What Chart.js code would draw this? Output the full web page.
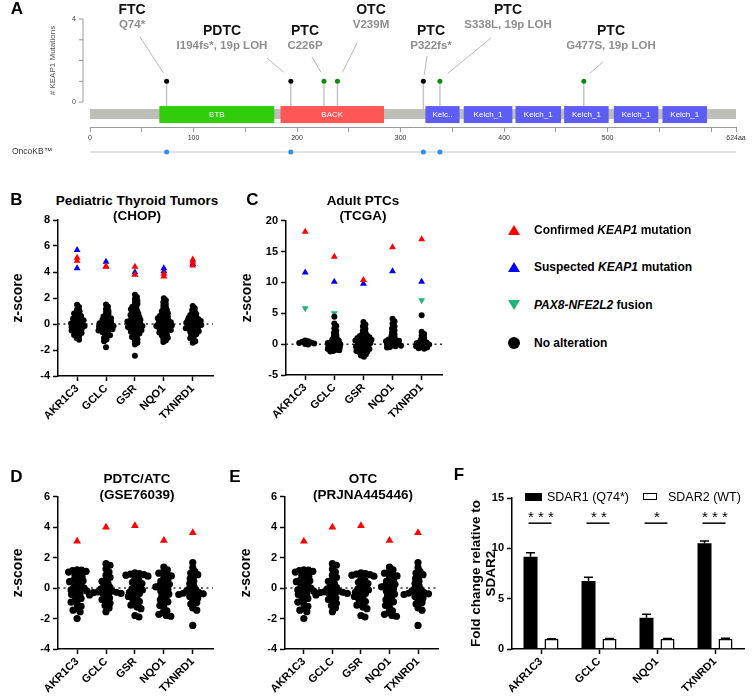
<!DOCTYPE html>
<html>
<head>
<meta charset="utf-8">
<title>KEAP1 mutations and NRF2 target expression</title>
<script src="https://cdn.jsdelivr.net/npm/chart.js"></script>
<style>
  body { margin: 0; background: #fff; }
  #fig { position: relative; width: 756px; height: 700px; overflow: hidden; font-family: "Liberation Sans", Arial, sans-serif; }
  #fig canvas { position: absolute; }
  .t { position: absolute; white-space: nowrap; line-height: 1; }
  .mk { position: absolute; width: 0; height: 0; }
</style>
</head>
<body>
<div id="fig"></div>
<script>
// ---------- panel A: KEAP1 lollipop
const PROTEIN_LENGTH = 624;
const AA_TICKS = [0, 50, 100, 150, 200, 250, 300, 350, 400, 450, 500, 550, 600, 624];
const DOMAIN_NAMES = ['BTB', 'BACK', 'Kelc..', 'Kelch_1', 'Kelch_1', 'Kelch_1', 'Kelch_1', 'Kelch_1'];
const DOMAIN_START = [67, 184, 324, 361, 411, 458, 506, 553];
const DOMAIN_END = [178, 284, 357, 408, 455, 501, 549, 596];
const MUT_POS = [74, 194, 226, 239, 322, 338, 477];
const MUT_COUNT = [1, 1, 1, 1, 1, 1, 1];
const MUT_TUMOR = ['FTC', 'PDTC', 'PTC', 'OTC', 'PTC', 'PTC', 'PTC'];
const MUT_CHANGE = ['Q74*', 'I194fs*, 19p LOH', 'C226P', 'V239M', 'P322fs*', 'S338L, 19p LOH', 'G477S, 19p LOH'];
const MUT_TRUNCATING = [true, true, false, false, true, false, false];
const ONCOKB_POS = [74, 194, 322, 338];

// ---------- panels B-E: z-scores per gene
const GENES = ['AKR1C3', 'GCLC', 'GSR', 'NQO1', 'TXNRD1'];

const CHOP_NONE = [
  [1.48, 1.3, 1.12, 0.98, 0.9, 0.8, 0.7, 0.62, 0.55, 0.48, 0.43, 0.38, 0.33, 0.28, 0.23, 0.18, 0.13, 0.08, 0.03, -0.02, -0.07, -0.11, -0.16, -0.2, -0.25, -0.3, -0.35, -0.4, -0.45, -0.5, -0.56, -0.62, -0.69, -0.77, -0.85, -0.95, -1.07, -1.22],
  [1.5, 1.32, 1.15, 1.0, 0.9, 0.78, 0.68, 0.58, 0.5, 0.44, 0.38, 0.32, 0.26, 0.2, 0.15, 0.1, 0.05, 0.0, -0.04, -0.08, -0.12, -0.16, -0.2, -0.24, -0.28, -0.32, -0.36, -0.4, -0.45, -0.5, -0.56, -0.63, -0.7, -0.78, -0.87, -0.97, -1.08, -1.2, -1.32, -1.78],
  [2.25, 2.08, 1.92, 1.78, 1.65, 1.53, 1.42, 1.32, 1.22, 1.13, 1.05, 0.97, 0.9, 0.83, 0.76, 0.7, 0.64, 0.58, 0.52, 0.46, 0.4, 0.35, 0.3, 0.25, 0.2, 0.15, 0.1, 0.05, 0.0, -0.04, -0.08, -0.12, -0.16, -0.2, -0.24, -0.28, -0.33, -0.38, -0.43, -0.48, -0.54, -0.6, -0.67, -0.74, -0.82, -0.9, -1.0, -1.1, -1.2, -1.32, -1.45, -1.58, -2.45],
  [1.98, 1.82, 1.67, 1.53, 1.4, 1.28, 1.17, 1.07, 0.98, 0.9, 0.82, 0.75, 0.68, 0.62, 0.56, 0.5, 0.44, 0.38, 0.33, 0.28, 0.23, 0.18, 0.13, 0.08, 0.04, 0.0, -0.04, -0.08, -0.12, -0.16, -0.2, -0.25, -0.3, -0.35, -0.4, -0.46, -0.52, -0.58, -0.65, -0.72, -0.8, -0.88, -0.97, -1.06, -1.16, -1.27, -1.38],
  [1.38, 1.22, 1.08, 0.96, 0.86, 0.77, 0.69, 0.62, 0.55, 0.49, 0.43, 0.38, 0.33, 0.28, 0.23, 0.18, 0.13, 0.09, 0.05, 0.01, -0.03, -0.07, -0.11, -0.15, -0.19, -0.23, -0.27, -0.32, -0.37, -0.42, -0.48, -0.55, -0.62, -0.7, -0.79, -0.88, -0.98, -1.09, -1.2, -1.32, -1.45]
];
const CHOP_CONFIRMED = [[5.1, 4.87], [4.45, 4.4, -0.4], [4.4, 3.78], [3.87, 3.65, -0.22], [4.97, 4.8, 4.5]];
const CHOP_SUSPECTED = [[5.69, 4.28], [4.78], [3.98], [4.28, 4.05], [4.62]];

const TCGA_NONE = [
  [0.58, 0.47, 0.37, 0.28, 0.2, 0.12, 0.04, -0.05],
  [4.45, 3.35, 2.95, 2.55, 2.15, 1.8, 1.5, 1.2, 0.95, 0.75, 0.55, 0.42, 0.3, 0.2, 0.1, 0.0, -0.1, -0.2, -0.3, -0.4, -0.5, -0.6, -0.7, -0.8, -0.9, -1.0, -1.1, -1.2],
  [3.6, 3.2, 2.85, 2.5, 2.2, 1.9, 1.65, 1.45, 1.3, 1.2, 1.1, 1.0, 0.9, 0.8, 0.7, 0.6, 0.5, 0.4, 0.3, 0.2, 0.1, 0.0, -0.1, -0.2, -0.3, -0.4, -0.5, -0.6, -0.7, -0.8, -0.9, -1.0, -1.1, -1.2, -1.3, -1.45, -1.65, -1.85, -2.05],
  [4.1, 3.7, 3.3, 2.9, 2.55, 2.2, 1.9, 1.6, 1.35, 1.1, 0.85, 0.75, 0.65, 0.55, 0.45, 0.35, 0.25, 0.15, 0.05, -0.05, -0.15, -0.25, -0.35, -0.45, -0.55],
  [4.7, 2.0, 1.65, 1.35, 1.05, 0.8, 0.55, 0.35, 0.25, 0.15, 0.05, -0.05, -0.15, -0.25, -0.35, -0.45, -0.55, -0.65, -0.75]
];
const TCGA_CONFIRMED = [[18.2], [14.15], [10.4], [15.7], [17.0]];
const TCGA_SUSPECTED = [[11.6], [10.1], [9.8], [11.8], [10.1]];
const TCGA_FUSION = [[5.8], [5.0], [2.8], [1.75], [7.1]];

const GSE_NONE = [
  [1.2, 1.18, 1.15, 1.1, 1.05, 0.95, 0.85, 0.75, 0.62, 0.52, 0.48, 0.42, 0.3, 0.2, 0.08, 0.0, -0.05, -0.12, -0.2, -0.28, -0.35, -0.42, -0.55, -0.68, -0.8, -0.92, -1.05, -1.2, -1.35, -1.45, -1.55, -2.0],
  [1.6, 1.5, 1.25, 1.05, 0.85, 0.7, 0.55, 0.45, 0.3, 0.15, 0.05, -0.05, -0.15, -0.2, -0.25, -0.28, -0.3, -0.32, -0.35, -0.38, -0.45, -0.55, -0.65, -0.75, -0.88, -1.0, -1.15, -1.3, -1.55],
  [1.0, 0.95, 0.92, 0.88, 0.85, 0.78, 0.62, 0.5, 0.38, 0.3, 0.15, 0.05, -0.05, -0.12, -0.2, -0.28, -0.36, -0.45, -0.55, -0.65, -0.75, -0.88, -1.0, -1.12, -1.25, -1.35, -1.8, -1.9],
  [1.38, 1.2, 1.05, 0.98, 0.9, 0.8, 0.65, 0.55, 0.45, 0.32, 0.25, 0.18, 0.08, 0.0, -0.1, -0.2, -0.3, -0.4, -0.52, -0.65, -0.78, -0.9, -1.02, -1.15, -1.3, -1.5, -1.62, -1.72, -1.8, -1.85],
  [1.68, 1.35, 1.1, 0.98, 0.88, 0.78, 0.62, 0.45, 0.3, 0.15, 0.02, -0.1, -0.18, -0.25, -0.3, -0.34, -0.38, -0.42, -0.48, -0.55, -0.65, -0.8, -0.95, -1.05, -1.3, -1.45, -2.45]
];
const GSE_CONFIRMED = [[3.07], [4.0], [4.1], [3.13], [3.63]];

// the OTC panel shows the same points as the PDTC/ATC panel
const PRJ_NONE = GSE_NONE;
const PRJ_CONFIRMED = GSE_CONFIRMED;

// ---------- panel F: qPCR fold change
const F_GENES = ['AKR1C3', 'GCLC', 'NQO1', 'TXNRD1'];
const F_SDAR1 = [9.17, 6.75, 3.1, 10.5];
const F_SDAR1_ERR = [0.4, 0.37, 0.35, 0.22];
const F_SDAR2 = [1.0, 1.0, 1.0, 1.0];
const F_SDAR2_ERR = [0.03, 0.04, 0.05, 0.06];
const F_SIG = ['***', '**', '*', '***'];

const FONT = '"Liberation Sans", Arial, sans-serif';
Chart.defaults.font.family = FONT;
Chart.defaults.color = '#000';
Chart.defaults.animation = false;
Chart.defaults.events = [];
Chart.defaults.plugins.legend.display = false;
Chart.defaults.plugins.tooltip.enabled = false;

const fig = document.getElementById('fig');

function makeCanvas(left, top, w, h) {
  const c = document.createElement('canvas');
  c.width = w; c.height = h;
  c.style.left = left + 'px'; c.style.top = top + 'px';
  c.style.width = w + 'px'; c.style.height = h + 'px';
  fig.appendChild(c);
  return c;
}

function addText(html, x, y, size, opts) {
  opts = opts || {};
  const el = document.createElement('div');
  el.className = 't';
  el.innerHTML = html;
  el.style.left = x + 'px';
  el.style.top = y + 'px';
  el.style.fontSize = size + 'px';
  el.style.fontWeight = opts.weight || 'bold';
  el.style.color = opts.color || '#000';
  el.style.transform = opts.align === 'left' ? 'translate(0,-50%)' : 'translate(-50%,-50%)';
  fig.appendChild(el);
}

// ================= panel A =================
const DOMAIN_COLOR = { 'BTB': '#31cc0c', 'BACK': '#ff5656', 'Kelc..': '#5e5ef7', 'Kelch_1': '#5e5ef7' };
// label placement: centre x, row (0 upper, 1 lower), leader start, leader end offset from the dot
const MUT_LABEL_LAYOUT = [
  { cx: 132, row: 0, sx: 140, sy: 37, dx: -3, dy: -8 },
  { cx: 222, row: 1, sx: 267, sy: 58, dx: -7, dy: -9 },
  { cx: 305, row: 1, sx: 312, sy: 57, dx: -3, dy: -9 },
  { cx: 371, row: 0, sx: 357, sy: 43, dx: 5, dy: -9 },
  { cx: 431, row: 1, sx: 427, sy: 56, dx: 1, dy: -7 },
  { cx: 508, row: 0, sx: 491, sy: 38, dx: 8, dy: -8 },
  { cx: 611, row: 1, sx: 603, sy: 62, dx: 6, dy: -8 }
];

const proteinPlugin = {
  id: 'protein',
  beforeDatasetsDraw(chart) {
    const { ctx, scales: { x, y } } = chart;
    const y0 = y.getPixelForValue(0);
    ctx.save();
    ctx.strokeStyle = '#c6c6c6';
    ctx.lineWidth = 1.5;
    MUT_POS.forEach((p, i) => {
      const px = x.getPixelForValue(p);
      ctx.beginPath();
      ctx.moveTo(px, y.getPixelForValue(MUT_COUNT[i]));
      ctx.lineTo(px, y0 + 8);
      ctx.stroke();
    });
    const bx0 = x.getPixelForValue(0), bx1 = x.getPixelForValue(PROTEIN_LENGTH);
    ctx.fillStyle = '#bebeb8';
    ctx.fillRect(bx0, y0 + 7, bx1 - bx0, 10);
    ctx.font = '8px ' + FONT;
    ctx.textAlign = 'center';
    ctx.textBaseline = 'middle';
    DOMAIN_NAMES.forEach((n, i) => {
      const x1 = x.getPixelForValue(DOMAIN_START[i]), x2 = x.getPixelForValue(DOMAIN_END[i]);
      ctx.fillStyle = DOMAIN_COLOR[n];
      ctx.fillRect(x1, y0 + 4, x2 - x1, 17);
      ctx.fillStyle = '#fff';
      ctx.fillText(n, (x1 + x2) / 2, y0 + 12.5);
    });
    ctx.restore();
  },
  afterDatasetsDraw(chart) {
    const { ctx, scales: { x, y } } = chart;
    ctx.save();
    // mutation labels with leader lines
    ctx.textAlign = 'center';
    ctx.textBaseline = 'middle';
    MUT_LABEL_LAYOUT.forEach((L, i) => {
      const px = x.getPixelForValue(MUT_POS[i]), py = y.getPixelForValue(MUT_COUNT[i]);
      ctx.strokeStyle = '#b8b8b8';
      ctx.lineWidth = 1;
      ctx.beginPath();
      ctx.moveTo(L.sx, L.sy);
      ctx.lineTo(px + L.dx, py + L.dy);
      ctx.stroke();
      const ty = L.row ? 31 : 10;
      ctx.fillStyle = '#111';
      ctx.font = 'bold 14px ' + FONT;
      ctx.fillText(MUT_TUMOR[i], L.cx, ty);
      ctx.fillStyle = '#8e8e8e';
      ctx.font = 'bold 11.5px ' + FONT;
      ctx.fillText(MUT_CHANGE[i], L.cx, ty + 14.5);
    });
    // small count axis on the left
    const ax = x.getPixelForValue(0) - 7;
    ctx.strokeStyle = '#9a9a9a';
    ctx.lineWidth = 1;
    ctx.beginPath();
    ctx.moveTo(ax, y.getPixelForValue(0));
    ctx.lineTo(ax, y.getPixelForValue(4));
    for (let v = 0; v <= 4; v++) {
      const py = y.getPixelForValue(v);
      ctx.moveTo(ax - 4, py);
      ctx.lineTo(ax, py);
    }
    ctx.stroke();
    ctx.fillStyle = '#444';
    ctx.font = '7px ' + FONT;
    ctx.textAlign = 'right';
    [0, 4].forEach(v => ctx.fillText(String(v), ax - 7, y.getPixelForValue(v)));
    // OncoKB track
    const oy = 152;
    ctx.textAlign = 'left';
    ctx.font = '8.5px ' + FONT;
    ctx.fillStyle = '#333';
    ctx.fillText('OncoKB\u2122', 12, oy);
    ctx.strokeStyle = '#d8d8d8';
    ctx.lineWidth = 1.5;
    ctx.beginPath();
    ctx.moveTo(x.getPixelForValue(0), oy);
    ctx.lineTo(x.getPixelForValue(PROTEIN_LENGTH), oy);
    ctx.stroke();
    ctx.fillStyle = '#2b8ef0';
    ONCOKB_POS.forEach(p => {
      ctx.beginPath();
      ctx.arc(x.getPixelForValue(p), oy, 2.5, 0, Math.PI * 2);
      ctx.fill();
    });
    ctx.translate(53, (y.getPixelForValue(0) + y.getPixelForValue(4)) / 2);
    ctx.rotate(-Math.PI / 2);
    ctx.textAlign = 'center';
    ctx.font = '8px ' + FONT;
    ctx.fillStyle = '#555';
    ctx.fillText('# KEAP1 Mutations', 0, 0);
    ctx.restore();
  }
};

new Chart(makeCanvas(0, 0, 756, 165), {
  type: 'scatter',
  data: {
    datasets: [{
      data: MUT_POS.map((p, i) => ({ x: p, y: MUT_COUNT[i] })),
      pointRadius: 2.5,
      pointBorderWidth: 0,
      pointBackgroundColor: MUT_TRUNCATING.map(t => t ? '#000' : '#0b8a0b')
    }]
  },
  options: {
    responsive: false,
    layout: { padding: { left: 90, right: 20, top: 19, bottom: 0 } },
    scales: {
      x: {
        type: 'linear', min: 0, max: PROTEIN_LENGTH,
        afterBuildTicks: s => { s.ticks = AA_TICKS.map(v => ({ value: v })); },
        ticks: {
          autoSkip: false, maxRotation: 0, padding: 1.5,
          font: { size: 7 }, color: '#333',
          callback: v => v === PROTEIN_LENGTH ? '624aa' : (v % 100 === 0 && v < 600 ? String(v) : '')
        },
        grid: { drawOnChartArea: false, tickLength: 5, tickColor: '#9a9a9a' },
        border: { color: '#9a9a9a' },
        afterFit: s => { s.height = 38; }
      },
      y: { display: false, min: -1.2, max: 4 }
    }
  },
  plugins: [proteinPlugin]
});

// ================= panels B-E =================
const zeroLinePlugin = {
  id: 'zeroLine',
  beforeDatasetsDraw(chart) {
    const { ctx, chartArea: a, scales: { y } } = chart;
    const py = y.getPixelForValue(0);
    ctx.save();
    ctx.strokeStyle = '#333';
    ctx.lineWidth = 1.5;
    ctx.setLineDash([2, 3.5]);
    ctx.beginPath();
    ctx.moveTo(a.left, py);
    ctx.lineTo(a.right, py);
    ctx.stroke();
    ctx.restore();
  }
};

// beeswarm: spread points sideways so that centres stay at least d px apart
function swarm(chart, di, groups, d) {
  const xs = chart.scales.x, ys = chart.scales.y;
  const unit = xs.getPixelForValue(1) - xs.getPixelForValue(0);
  const out = [];
  groups.forEach((vals, ci) => {
    const placed = [];
    vals.slice().sort((a, b) => b - a).forEach(v => {
      const py = ys.getPixelForValue(v);
      let off = 0;
      for (let k = 0; k < 400; k++) {
        const c = (k % 2 ? 1 : -1) * Math.ceil(k / 2) * 0.5;
        if (placed.every(p => (p.x - c) ** 2 + (p.y - py) ** 2 >= d * d)) { off = c; break; }
      }
      placed.push({ x: off, y: py });
      out.push({ x: ci + off / unit, y: v });
    });
  });
  chart.data.datasets[di].data = out;
  chart.update('none');
}

function axisStyle() {
  return {
    grid: { drawOnChartArea: false, tickLength: 5, tickWidth: 1.5, tickColor: '#000' },
    border: { color: '#000', width: 1.5 }
  };
}

function dotPanel(o) {
  const sets = [{ data: [], pointRadius: o.r, pointBorderWidth: 0, pointBackgroundColor: '#000' }];
  [[o.confirmed, '#ff0000', 0], [o.suspected, '#0000ff', 0], [o.fusion, '#1fb57a', 180]].forEach(([groups, color, rot]) => {
    if (!groups) return;
    sets.push({
      data: groups.flatMap((vals, ci) => vals.map(v => ({ x: ci, y: v }))),
      pointStyle: 'triangle', rotation: rot, pointRadius: o.tr,
      pointBorderWidth: 0, pointBackgroundColor: color
    });
  });
  const chart = new Chart(makeCanvas(o.left, o.top, o.w, o.h), {
    type: 'scatter',
    data: { datasets: sets },
    options: {
      responsive: false,
      layout: { padding: { left: 0, top: o.padTop, right: o.padRight, bottom: 0 } },
      scales: {
        x: Object.assign({
          type: 'linear', min: -0.66, max: 4.7,
          afterBuildTicks: s => { s.ticks = GENES.map((g, i) => ({ value: i })); },
          ticks: {
            autoSkip: false, minRotation: 45, maxRotation: 45, padding: 1,
            font: { size: 11, weight: 'bold' }, color: '#000',
            callback: v => GENES[v]
          },
          afterFit: s => { s.height = o.xH; }
        }, axisStyle()),
        y: Object.assign({
          min: o.yMin, max: o.yMax,
          ticks: { stepSize: o.step, padding: 3, font: { size: 11, weight: 'bold' }, color: '#000' },
          title: { display: true, text: 'z-score', color: '#000', font: { size: 14, weight: 'bold' }, padding: { top: o.titlePad, bottom: 0 } },
          afterFit: s => { s.width = o.axisW; }
        }, axisStyle())
      }
    },
    plugins: [zeroLinePlugin]
  });
  swarm(chart, 0, o.black, o.d);
}

dotPanel({ left: 0, top: 210, w: 240, h: 230, padTop: 10, padRight: 27, axisW: 58, xH: 64, titlePad: 10,
  yMin: -4, yMax: 8, step: 2, r: 3, d: 2.8, tr: 4,
  black: CHOP_NONE, confirmed: CHOP_CONFIRMED, suspected: CHOP_SUSPECTED });
dotPanel({ left: 225, top: 210, w: 235, h: 230, padTop: 10.7, padRight: 18, axisW: 61, xH: 65, titlePad: 14,
  yMin: -5, yMax: 20, step: 5, r: 3, d: 3, tr: 4,
  black: TCGA_NONE, confirmed: TCGA_CONFIRMED, suspected: TCGA_SUSPECTED, fusion: TCGA_FUSION });
dotPanel({ left: 0, top: 485, w: 240, h: 215, padTop: 11.7, padRight: 27, axisW: 58, xH: 51, titlePad: 10,
  yMin: -4, yMax: 6, step: 2, r: 3.6, d: 4.2, tr: 4.5,
  black: GSE_NONE, confirmed: GSE_CONFIRMED });
dotPanel({ left: 225, top: 485, w: 235, h: 215, padTop: 11.7, padRight: 22, axisW: 60, xH: 51, titlePad: 13,
  yMin: -4, yMax: 6, step: 2, r: 3.6, d: 4.2, tr: 4.5,
  black: PRJ_NONE, confirmed: PRJ_CONFIRMED });

// ================= panel F =================
const fAnnotPlugin = {
  id: 'fAnnot',
  afterDatasetsDraw(chart) {
    const { ctx, scales: { y } } = chart;
    ctx.save();
    ctx.strokeStyle = '#000';
    ctx.lineWidth = 1.5;
    [F_SDAR1_ERR, F_SDAR2_ERR].forEach((errs, di) => {
      const vals = chart.data.datasets[di].data;
      chart.getDatasetMeta(di).data.forEach((bar, i) => {
        const top = y.getPixelForValue(vals[i] + errs[i]);
        ctx.beginPath();
        ctx.moveTo(bar.x, y.getPixelForValue(vals[i]));
        ctx.lineTo(bar.x, top);
        ctx.moveTo(bar.x - 4.5, top);
        ctx.lineTo(bar.x + 4.5, top);
        ctx.stroke();
      });
    });
    const m0 = chart.getDatasetMeta(0).data, m1 = chart.getDatasetMeta(1).data;
    const ly = y.getPixelForValue(12.5), sy = y.getPixelForValue(13.4);
    ctx.fillStyle = '#000';
    ctx.font = '15px ' + FONT;
    ctx.textAlign = 'center';
    ctx.textBaseline = 'middle';
    F_SIG.forEach((s, i) => {
      ctx.beginPath();
      ctx.moveTo(m0[i].x - 2, ly);
      ctx.lineTo(m1[i].x, ly);
      ctx.stroke();
      ctx.fillText(s.split('').join(' '), (m0[i].x + m1[i].x) / 2, sy + 3.5);
    });
    ctx.restore();
  }
};

new Chart(makeCanvas(440, 485, 316, 215), {
  type: 'bar',
  data: {
    labels: F_GENES,
    datasets: [
      { label: 'SDAR1 (Q74*)', data: F_SDAR1, backgroundColor: '#000', borderWidth: 0, categoryPercentage: 0.724, barPercentage: 0.667 },
      { label: 'SDAR2 (WT)', data: F_SDAR2, backgroundColor: '#fff', borderColor: '#000', borderWidth: 1.5, categoryPercentage: 0.724, barPercentage: 0.667 }
    ]
  },
  options: {
    responsive: false,
    layout: { padding: { left: 0, top: 13, right: 12, bottom: 0 } },
    scales: {
      x: Object.assign({
        ticks: { autoSkip: false, minRotation: 45, maxRotation: 45, padding: 1, font: { size: 11, weight: 'bold' }, color: '#000' },
        afterFit: s => { s.height = 51; }
      }, axisStyle(), { grid: { offset: false, drawOnChartArea: false, tickLength: 5, tickWidth: 1.5, tickColor: '#000' } }),
      y: Object.assign({
        min: 0, max: 15,
        ticks: { stepSize: 5, padding: 3, font: { size: 11, weight: 'bold' }, color: '#000' },
        title: { display: true, text: ['Fold change relative to', 'SDAR2'], color: '#000', font: { size: 13.5, weight: 'bold', lineHeight: 1.1 }, padding: { top: 29, bottom: 0 } },
        afterFit: s => { s.width = 72; }
      }, axisStyle())
    }
  },
  plugins: [fAnnotPlugin]
});

// ================= text: panel letters, titles, legends =================
[['A', 17, 8], ['B', 16.5, 199], ['C', 252.5, 199], ['D', 16.5, 476], ['E', 235, 475.5], ['F', 459, 474]]
  .forEach(([l, x, y]) => addText(l, x, y, 17));

addText('Pediatric Thyroid Tumors', 137, 200.7, 13.5);
addText('(CHOP)', 137, 215.5, 13.5);
addText('Adult PTCs', 363, 200.7, 13.5);
addText('(TCGA)', 363, 215.5, 13.5);
addText('PDTC/ATC', 137, 479, 13.5);
addText('(GSE76039)', 137, 495, 13.5);
addText('OTC', 363, 479, 13.5);
addText('(PRJNA445446)', 363, 495, 13.5);

// legend for B-E
function marker(kind, color, cx, cy) {
  const m = document.createElement('div');
  m.className = 'mk';
  if (kind === 'circle') {
    m.style.width = '12px'; m.style.height = '12px';
    m.style.borderRadius = '50%'; m.style.background = color;
    m.style.left = (cx - 6) + 'px'; m.style.top = (cy - 6) + 'px';
  } else {
    m.style.borderLeft = '6px solid transparent';
    m.style.borderRight = '6px solid transparent';
    m.style[kind === 'up' ? 'borderBottom' : 'borderTop'] = '10px solid ' + color;
    m.style.left = (cx - 6) + 'px'; m.style.top = (cy - 5) + 'px';
  }
  fig.appendChild(m);
}
[
  ['up', '#ff0000', 'Confirmed <i>KEAP1</i> mutation', 229.6],
  ['up', '#0000ff', 'Suspected <i>KEAP1</i> mutation', 267.3],
  ['down', '#1fb57a', '<i>PAX8-NFE2L2</i> fusion', 305],
  ['circle', '#000', 'No alteration', 342.7]
].forEach(([k, c, txt, y]) => {
  marker(k, c, 514, y);
  addText(txt, 534, y, 12, { align: 'left' });
});

// legend for F
const box1 = document.createElement('div');
box1.style.cssText = 'position:absolute;left:525px;top:493px;width:17px;height:8px;background:#000;';
fig.appendChild(box1);
const box2 = document.createElement('div');
box2.style.cssText = 'position:absolute;left:643px;top:493px;width:12px;height:5px;background:#fff;border:1.5px solid #000;';
fig.appendChild(box2);
addText('SDAR1 (Q74*)', 547, 497, 12.5, { align: 'left', weight: 'normal' });
addText('SDAR2 (WT)', 668, 497, 12.5, { align: 'left', weight: 'normal' });
</script>
</body>
</html>
